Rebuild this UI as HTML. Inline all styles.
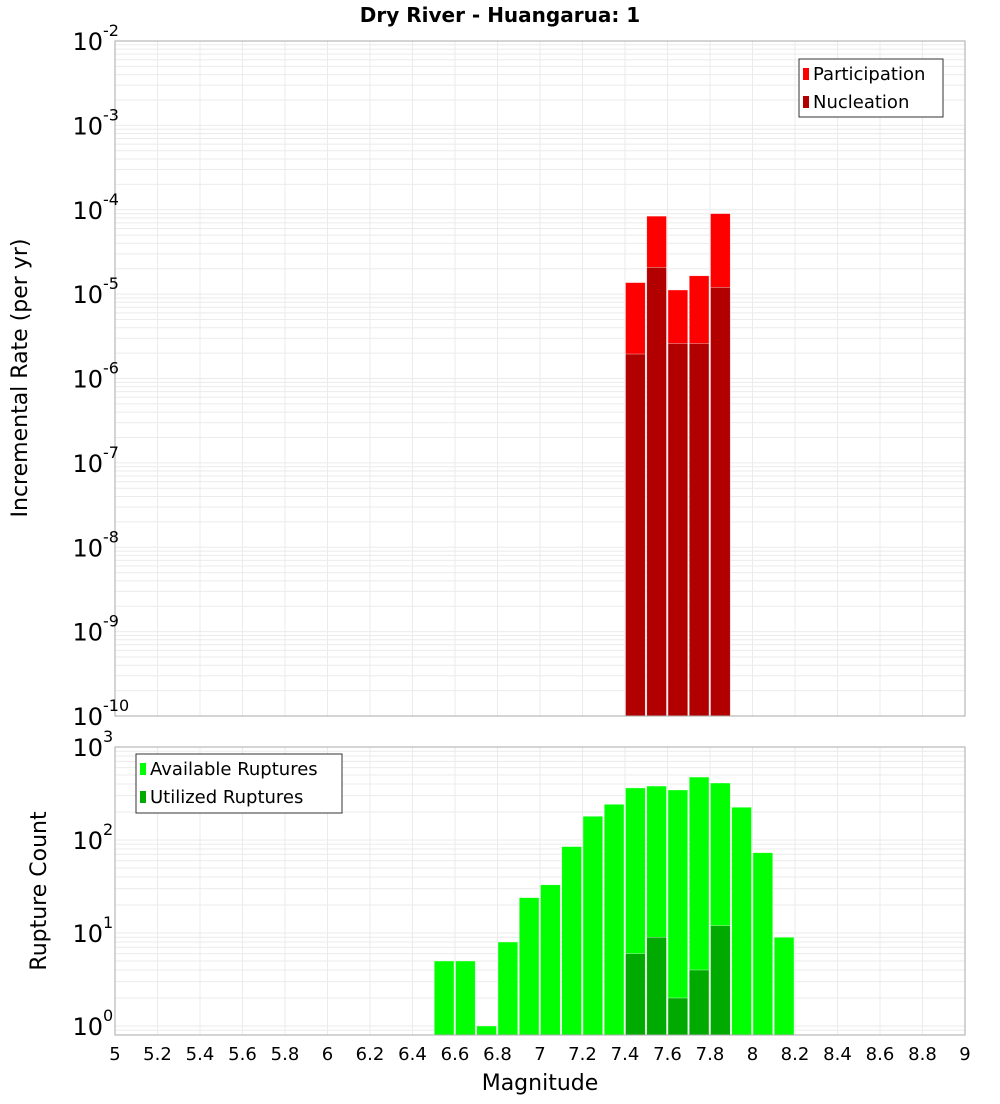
<!DOCTYPE html>
<html><head><meta charset="utf-8"><style>
body{margin:0;background:#fff;font-family:"DejaVu Sans","Liberation Sans",sans-serif}
svg text{font-family:"DejaVu Sans","Liberation Sans",sans-serif}
</style></head><body>
<svg id="c" width="1000" height="1100" xmlns="http://www.w3.org/2000/svg">
<text x="500" y="22" text-anchor="middle" font-size="20" font-weight="bold">Dry River - Huangarua: 1</text>
<text transform="translate(27,378) rotate(-90)" text-anchor="middle" font-size="22">Incremental Rate (per yr)</text>
<text transform="translate(46,891) rotate(-90)" text-anchor="middle" font-size="22">Rupture Count</text>
<text x="540" y="1090" text-anchor="middle" font-size="22">Magnitude</text>
<g id="top"></g><g id="bot"></g>
</svg>
<script>
const topMags=[7.45,7.55,7.65,7.75,7.85];
const participation=[1.37e-5,8.4e-5,1.12e-5,1.65e-5,9.0e-5];
const nucleation=[1.95e-6,2.07e-5,2.6e-6,2.6e-6,1.2e-5];
const botMags=[6.55,6.65,6.75,6.85,6.95,7.05,7.15,7.25,7.35,7.45,7.55,7.65,7.75,7.85,7.95,8.05,8.15];
const available=[5,5,1,8,24,33,85,180,242,363,380,345,475,410,225,73,9];
const utilizedMags=[7.45,7.55,7.65,7.75,7.85];
const utilized=[6,9,2,4,12];
const xTicks=["5","5.2","5.4","5.6","5.8","6","6.2","6.4","6.6","6.8","7","7.2","7.4","7.6","7.8","8","8.2","8.4","8.6","8.8","9"];
const topDecades=[-2,-3,-4,-5,-6,-7,-8,-9,-10];
const botDecades=[3,2,1,0];

const NS="http://www.w3.org/2000/svg";
const L=115,R=965;
const x=m=>L+(m-5)/4*(R-L);
function mk(p,t,a){const e=document.createElementNS(NS,t);for(const k in a)e.setAttribute(k,a[k]);p.appendChild(e);return e;}
function panel(g,top,bot,yTop,yPerDec,minE,maxE,name){
  const y=v=>yTop+(maxE-Math.log10(v))*yPerDec;
  const gg=mk(g,'g',{});
  
  
  for(let e=Math.floor(minE)-1;e<=maxE;e++)for(let k=1;k<10;k++){
    const yy=y(k*Math.pow(10,e));if(yy<top||yy>bot)continue;
    mk(gg,'line',{x1:L,x2:R,y1:yy,y2:yy,stroke:'#ebebeb','stroke-width':1});
  }
  for(let i=0;i<xTicks.length;i++){const xx=x(5+i*0.2);mk(gg,'line',{x1:xx,x2:xx,y1:top,y2:bot,stroke:'#ebebeb','stroke-width':1});}
  return y;
}
function bar(g,m,v,yf,base,col,name){
  const r=mk(g,'rect',{x:x(m-0.05)+0.5,y:yf(v),width:x(m+0.05)-x(m-0.05)-1.5,height:base-yf(v),fill:col,stroke:'rgba(255,255,255,0.6)','stroke-width':0.6});
  
  
}
function ylabels(g,decs,yf,name){
  decs.forEach(d=>{
    const t=mk(g,'text',{x:103,y:yf(Math.pow(10,d))+9,'text-anchor':'end','font-size':24});
    
    
    t.textContent='10';
    const s=mk(g,'text',{x:103,y:yf(Math.pow(10,d))-5,'font-size':16});
    
    
    s.textContent=String(d);
  });
}
// top
const T=document.getElementById('top');
const yT=panel(T,41,716,41,84.375,-10,-2,'top');
topMags.forEach((m,i)=>bar(T,m,participation[i],yT,716,'#ff0000','participation-bar'));
topMags.forEach((m,i)=>bar(T,m,nucleation[i],yT,716,'#b20000','nucleation-bar'));
mk(T,'rect',{x:L,y:41,width:R-L,height:675,fill:'none',stroke:'#aaa'});
ylabels(T,topDecades,yT,'top-y');
// bottom
const B=document.getElementById('bot');
const yB=panel(B,747,1035,747,93,-0.1,3,'bottom');
botMags.forEach((m,i)=>bar(B,m,available[i],yB,1035,'#00ff00','available-bar'));
utilizedMags.forEach((m,i)=>bar(B,m,utilized[i],yB,1035,'#00aa00','utilized-bar'));
mk(B,'rect',{x:L,y:747,width:R-L,height:288,fill:'none',stroke:'#aaa'});
ylabels(B,botDecades,yB,'bottom-y');
xTicks.forEach((t,i)=>{
  const e=mk(B,'text',{x:x(5+i*0.2),y:1060,'text-anchor':'middle','font-size':18});
  
  
  e.textContent=t;
});
// legends
function legend(g,x0,y0,w,h,items,name){
  const lg=mk(g,'g',{});
  
  
  mk(lg,'rect',{x:x0,y:y0,width:w,height:h,fill:'#fff',stroke:'#333'});
  items.forEach((it,i)=>{
    mk(lg,'rect',{x:x0+4,y:y0+9+i*28,width:6,height:12,fill:it[1]});
    const t=mk(lg,'text',{x:x0+14,y:y0+21+i*28,'font-size':18});
    
    
    t.textContent=it[0];
  });
}
legend(T,799,59,144,58,[['Participation','#ff0000'],['Nucleation','#b20000']],'top-legend');
legend(B,136,754,206,59,[['Available Ruptures','#00ff00'],['Utilized Ruptures','#00aa00']],'bottom-legend');
</script>
</body></html>
